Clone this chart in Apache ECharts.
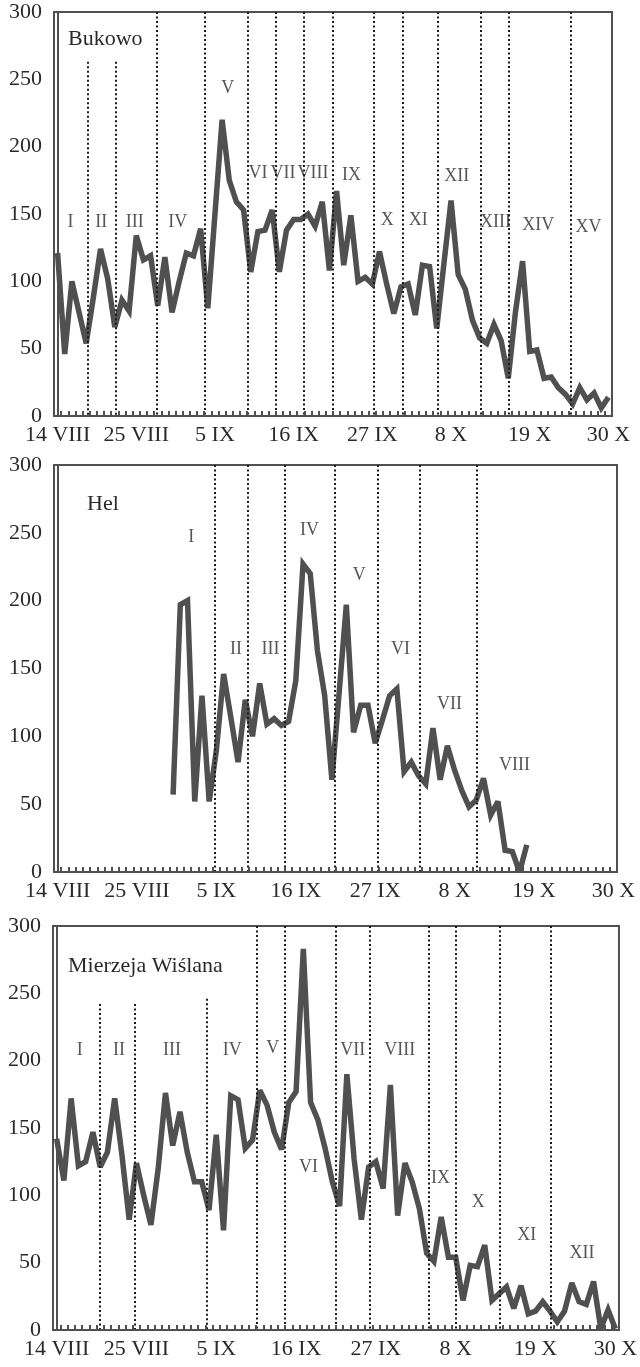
<!DOCTYPE html>
<html>
<head>
<meta charset="utf-8">
<style>
  html, body { margin: 0; padding: 0; background: #fff; }
  #main { width: 640px; height: 1367px; }
</style>
<script src="https://cdn.jsdelivr.net/npm/echarts@6.0.0/dist/echarts.min.js"></script>
</head>
<body>
<div id="main"></div>
<script>
// osie: dni od 14 VIII do 30 X (78 dni), etykiety co 11 dni
var tickLabels = ['14 VIII', '25 VIII', '5 IX', '16 IX', '27 IX', '8 X', '19 X', '30 X'];
var yTicks = [0, 300, 50];

// Bukowo
var bukowo = [121, 46, 100, 77, 54, 88, 124, 102, 66, 86, 78, 134, 116, 119, 82, 118, 77, 100, 121, 119,
  139, 80, 150, 220, 175, 159, 153, 107, 137, 138, 153, 107, 138, 146, 146, 150, 141, 159, 108, 167,
  112, 149, 100, 103, 98, 122, 98, 76, 96, 98, 75, 112, 111, 65, 113, 160, 105, 94, 71, 58,
  54, 68, 56, 28, 77, 115, 48, 49, 28, 29, 21, 16, 9, 21, 12, 17, 6, 14];
var bukowoBreaks = [4.26, 8.09, 13.83, 20.59, 26.65, 30.53, 34.44, 38.4, 44.24, 48.25, 53.15, 59.17, 63.03, 71.8];
var bukowoBreakTops = [263, 263, 300, 300, 300, 300, 300, 300, 300, 300, 300, 300, 300, 300];
var bukowoWaves = ['I', 'II', 'III', 'IV', 'V', 'VI', 'VII', 'VIII', 'IX', 'X', 'XI', 'XII', 'XIII', 'XIV', 'XV'];
var bukowoWaveX = [1.8, 6.1, 10.8, 16.8, 23.8, 28.0, 31.5, 35.7, 41.1, 46.1, 50.4, 55.8, 61.2, 67.2, 74.2];
var bukowoWaveY = [144, 144, 144, 144, 243, 180, 180, 180, 179, 145, 145, 178, 144, 142, 140];

// Hel (pomiary od 30 VIII)
var helFirstDay = 16;
var hel = [57, 197, 200, 52, 130, 52, 90, 146, 114, 81, 127, 100, 139, 109, 113, 108, 111, 141, 227, 220,
  163, 130, 68, 132, 197, 103, 123, 123, 95, 112, 130, 135, 74, 81, 71, 65, 106, 68, 93, 75,
  60, 48, 53, 69, 42, 52, 16, 15, 0, 20];
var helBreaks = [21.76, 26.38, 31.46, 38.39, 44.39, 50.16, 58.1];
var helBreakTops = [300, 300, 300, 300, 300, 300, 300];
var helWaves = ['I', 'II', 'III', 'IV', 'V', 'VI', 'VII', 'VIII'];
var helWaveX = [18.5, 24.7, 29.5, 34.9, 41.8, 47.5, 54.3, 63.3];
var helWaveY = [247, 164, 164, 252, 219, 164, 124, 79];

// Mierzeja Wiślana
var mierzeja = [142, 111, 172, 122, 125, 147, 121, 132, 172, 130, 82, 124, 100, 78, 120, 176, 137, 162, 132, 110,
  110, 89, 145, 74, 174, 171, 135, 141, 178, 167, 147, 134, 169, 177, 283, 169, 156, 135, 110, 92,
  190, 127, 82, 121, 125, 105, 182, 85, 124, 110, 90, 57, 51, 84, 54, 54, 22, 48, 47, 63,
  22, 27, 32, 16, 33, 12, 14, 21, 14, 6, 14, 35, 21, 19, 36, 1, 15, 1];
var mierzejaBreaks = [5.97, 10.75, 20.73, 27.57, 31.39, 38.41, 43.19, 51.31, 55.04, 61.02, 68.07];
var mierzejaBreakTops = [242, 242, 246, 300, 300, 300, 300, 300, 300, 300, 300];
var mierzejaWaves = ['I', 'II', 'III', 'IV', 'V', 'VI', 'VII', 'VIII', 'IX', 'X', 'XI', 'XII'];
var mierzejaWaveX = [3.2, 8.6, 15.9, 24.2, 29.8, 34.7, 40.8, 47.3, 52.9, 58.1, 64.8, 72.4];
var mierzejaWaveY = [208, 208, 208, 208, 209, 121, 208, 208, 113, 95, 70, 57];

// nazwy dni dla osi kategorii
var days = [];
(function() {
  var months = [['VIII', 14, 31], ['IX', 1, 30], ['X', 1, 30]];
  months.forEach(function(m) {
    for (var d = m[1]; d <= m[2]; d++) days.push(d + ' ' + m[0]);
  });
})();

var FONT = '"Liberation Serif", "DejaVu Serif", serif';
var INK = '#2a2a2a';
var LINE = '#505050';

var panels = [
  {name: 'Bukowo', first: 0, values: bukowo, breaks: bukowoBreaks, tops: bukowoBreakTops,
    waves: bukowoWaves, wx: bukowoWaveX, wy: bukowoWaveY,
    grid: {left: 54, top: 12, width: 558, height: 404}, title: {left: 68, top: 28}},
  {name: 'Hel', first: helFirstDay, values: hel, breaks: helBreaks, tops: helBreakTops,
    waves: helWaves, wx: helWaveX, wy: helWaveY,
    grid: {left: 54, top: 465, width: 563, height: 407}, title: {left: 87, top: 493}},
  {name: 'Mierzeja Wiślana', first: 0, values: mierzeja, breaks: mierzejaBreaks, tops: mierzejaBreakTops,
    waves: mierzejaWaves, wx: mierzejaWaveX, wy: mierzejaWaveY,
    grid: {left: 53, top: 926, width: 570, height: 404}, title: {left: 68, top: 955}}
];

var option = {
  backgroundColor: '#fff',
  animation: false,
  title: [],
  grid: [],
  xAxis: [],
  yAxis: [],
  series: []
};

panels.forEach(function(p, k) {
  option.title.push({
    text: p.name, left: p.title.left, top: p.title.top, padding: 0,
    textStyle: {fontFamily: FONT, fontSize: 22, fontWeight: 'normal', color: INK}
  });
  option.grid.push({
    left: p.grid.left, top: p.grid.top, width: p.grid.width, height: p.grid.height,
    show: true, borderColor: LINE, borderWidth: 2, backgroundColor: 'transparent'
  });
  // kategorie - tylko etykiety i kreski dzienne
  option.xAxis.push({
    gridIndex: k, type: 'category', data: days, boundaryGap: true,
    axisLine: {show: true, lineStyle: {color: LINE, width: 2}},
    axisTick: {show: true, inside: true, interval: 0, length: 5, lineStyle: {color: LINE, width: 2}},
    axisLabel: {
      interval: 10, margin: 8, fontFamily: FONT, fontSize: 22, color: INK,
      formatter: function(v, i) { return tickLabels[Math.round(i / 11)]; }
    },
    splitLine: {show: false},
    z: 5
  });
  // os wartosci do rysowania danych
  option.xAxis.push({
    gridIndex: k, type: 'value', min: -0.5, max: 77.5, show: false
  });
  option.yAxis.push({
    gridIndex: k, type: 'value', min: yTicks[0], max: yTicks[1], interval: yTicks[2],
    axisLine: {show: true, lineStyle: {color: LINE, width: 2}},
    axisTick: {show: false},
    splitLine: {show: false},
    axisLabel: {margin: 12, fontFamily: FONT, fontSize: 22, color: INK}
  });

  option.series.push({
    type: 'line',
    xAxisIndex: 2 * k + 1, yAxisIndex: k,
    data: p.values.map(function(v, i) { return [p.first + i, v]; }),
    symbol: 'none',
    lineStyle: {color: LINE, width: 5.5, join: 'miter', miterLimit: 3},
    z: 3,
    markLine: {
      silent: true,
      symbol: 'none',
      label: {show: false},
      lineStyle: {color: '#1a1a1a', width: 2, type: [2, 2.5]},
      data: p.breaks.map(function(x, j) {
        return [{coord: [x, p.tops[j]]}, {coord: [x, 0]}];
      })
    }
  });

  option.series.push({
    type: 'scatter',
    xAxisIndex: 2 * k + 1, yAxisIndex: k,
    symbolSize: 0,
    silent: true,
    z: 4,
    data: p.waves.map(function(w, j) { return {name: w, value: [p.wx[j], p.wy[j]]}; }),
    label: {
      show: true, position: 'inside', formatter: '{b}',
      fontFamily: FONT, fontSize: 18, color: INK
    }
  });
});

var chart = echarts.init(document.getElementById('main'));
chart.setOption(option);
</script>
</body>
</html>
